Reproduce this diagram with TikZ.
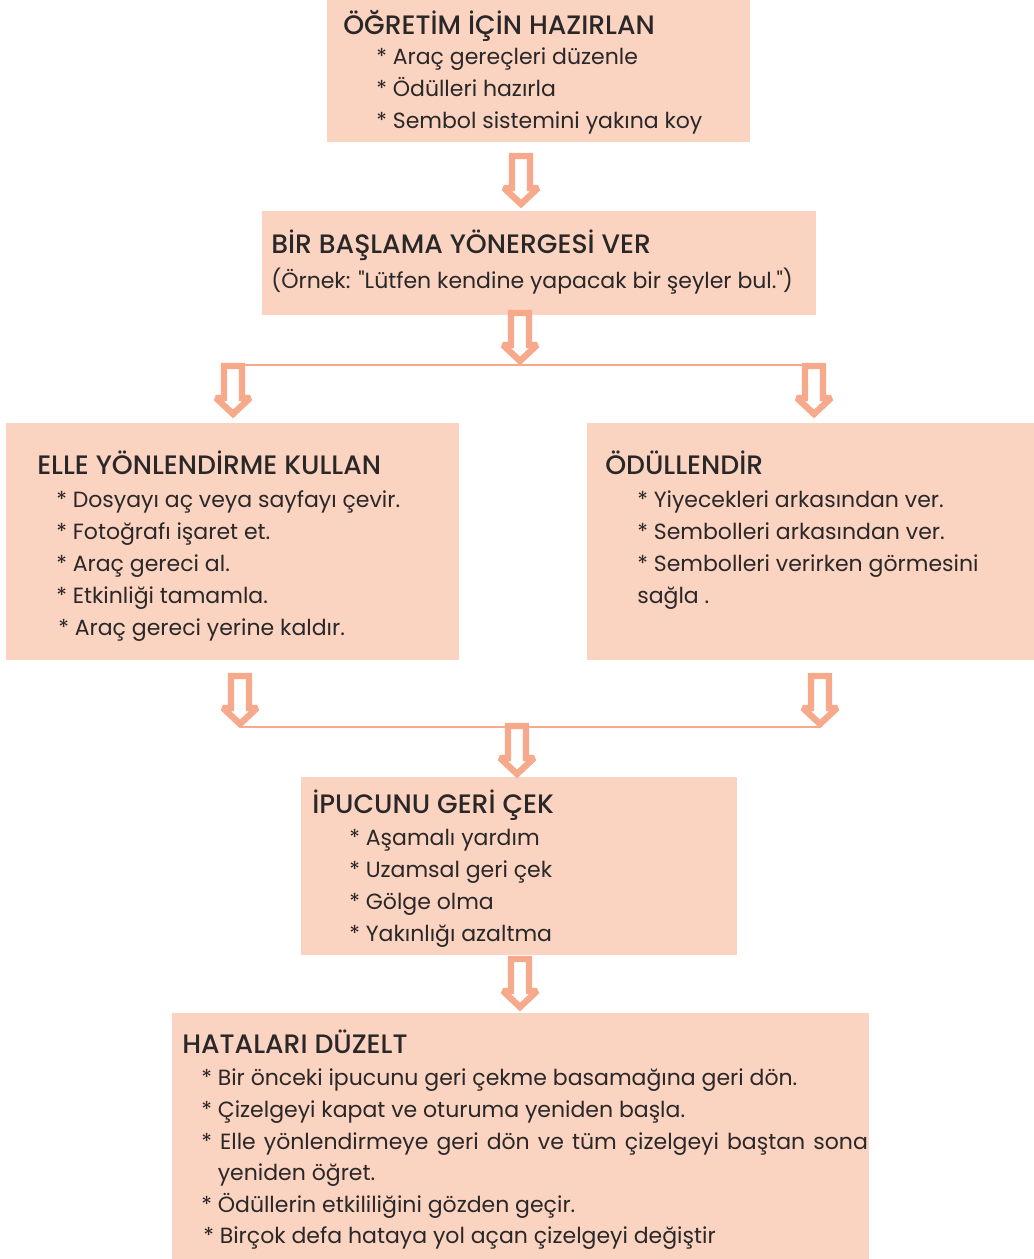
\documentclass[tikz,border=0pt]{standalone}
\usepackage{fontspec}
\setmainfont{Poppins}[Ligatures=TeXOff]
\newfontfamily\headfont{Poppins Medium}
\definecolor{peach}{HTML}{FBD3C1}
\definecolor{salmon}{HTML}{F6A98B}
\definecolor{ink}{HTML}{2A2728}
\newcommand\bodyfont{\fontsize{16.5}{24}\selectfont}
\newcommand\headerfont{\headfont\fontsize{20}{24}\selectfont}

\tikzset{
  box/.style={fill=peach, draw=none, anchor=north west, inner sep=0pt},
  head/.style={anchor=base west, inner sep=0pt, font=\headerfont, text=ink},
  item/.style={anchor=base west, inner sep=0pt, font=\bodyfont, text=ink},
  flowline/.style={draw=salmon, line width=2.2pt},
  blockarrow/.style={draw=salmon, fill=white, line width=4.8pt, line join=miter, miter limit=2},
  pics/downarrow/.style={code={
    \draw[blockarrow] (-9,0) -- (9,0) -- (9,32) -- (17,32) -- (0,48)
      -- (-17,32) -- (-9,32) -- cycle;
  }},
}

\begin{document}
\begin{tikzpicture}[x=0.75pt, y=-0.75pt]
\useasboundingbox (0,0) rectangle (1034,1259);

% boxes
\node[box, minimum width=317.25pt, minimum height=106.5pt] (prep)  at (327,0)    {};
\node[box, minimum width=415.5pt,  minimum height=78pt]    (start) at (262,211)  {};
\node[box, minimum width=339.75pt, minimum height=177.75pt] (guide) at (6,423)   {};
\node[box, minimum width=335.25pt, minimum height=177.75pt] (reward) at (587,423) {};
\node[box, minimum width=327pt,    minimum height=133.5pt] (fade)  at (301,777)  {};
\node[box, minimum width=522.75pt, minimum height=184.5pt] (fix)   at (172,1013) {};

% junction lines
\coordinate (forkL) at (233,365);
\coordinate (forkR) at (814,365);
\coordinate (joinL) at (240,727);
\coordinate (joinR) at (820,727);
\draw[flowline] (forkL) -- (forkR);
\draw[flowline] (joinL) -- (joinR);

% block arrows
\pic at (521,156) {downarrow};
\pic at (520,313) {downarrow};
\pic at (233,366) {downarrow};
\pic at (814,366) {downarrow};
\pic at (240,676) {downarrow};
\pic at (820,676) {downarrow};
\pic at (517,726) {downarrow};
\pic at (520,959) {downarrow};

% texts: preparation
\node[head] (prepH) at (343,35) {ÖĞRETİM İÇİN HAZIRLAN};
\node[item] (prep1) at (376,65)  {* Araç gereçleri düzenle};
\node[item] (prep2) at (376,97)  {* Ödülleri hazırla};
\node[item] (prep3) at (376,129) {* Sembol sistemini yakına koy};

% start instruction
\node[head] (startH) at (271,253) {BİR BAŞLAMA YÖNERGESİ VER};
\node[item] (start1) at (271,288) {(Örnek: "Lütfen kendine yapacak bir şeyler bul.")};

% manual guidance
\node[head] (guideH) at (37,474) {ELLE YÖNLENDİRME KULLAN};
\node[item] (guide1) at (56,507) {* Dosyayı aç veya sayfayı çevir.};
\node[item] (guide2) at (56,539) {* Fotoğrafı işaret et.};
\node[item] (guide3) at (56,571) {* Araç gereci al.};
\node[item] (guide4) at (56,603) {* Etkinliği tamamla.};
\node[item] (guide5) at (58,635) {* Araç gereci yerine kaldır.};

% rewards
\node[head] (rewardH) at (605,474) {ÖDÜLLENDİR};
\node[item] (reward1) at (637,507) {* Yiyecekleri arkasından ver.};
\node[item] (reward2) at (637,539) {* Sembolleri arkasından ver.};
\node[item] (reward3) at (637,571) {* Sembolleri verirken görmesini};
\node[item] (reward4) at (637,603) {sağla .};

% prompt fading
\node[head] (fadeH) at (312,813) {İPUCUNU GERİ ÇEK};
\node[item] (fade1) at (349,845) {* Aşamalı yardım};
\node[item] (fade2) at (349,877) {* Uzamsal geri çek};
\node[item] (fade3) at (349,909) {* Gölge olma};
\node[item] (fade4) at (349,941) {* Yakınlığı azaltma};

% error correction
\node[head] (fixH) at (182,1053) {HATALARI DÜZELT};
\node[item] (fix1) at (201,1085) {* Bir önceki ipucunu geri çekme basamağına geri dön.};
\node[item] (fix2) at (201,1117) {* Çizelgeyi kapat ve oturuma yeniden başla.};
\node[item] (fix3) at (201,1149) {\makebox[500pt][s]{* Elle yönlendirmeye geri dön ve tüm çizelgeyi baştan sona}};
\node[item] (fix4) at (201,1180) {\phantom{* }yeniden öğret.};
\node[item] (fix5) at (201,1212) {* Ödüllerin etkililiğini gözden geçir.};
\node[item] (fix6) at (203,1243) {* Birçok defa hataya yol açan çizelgeyi değiştir};
\end{tikzpicture}
\end{document}
